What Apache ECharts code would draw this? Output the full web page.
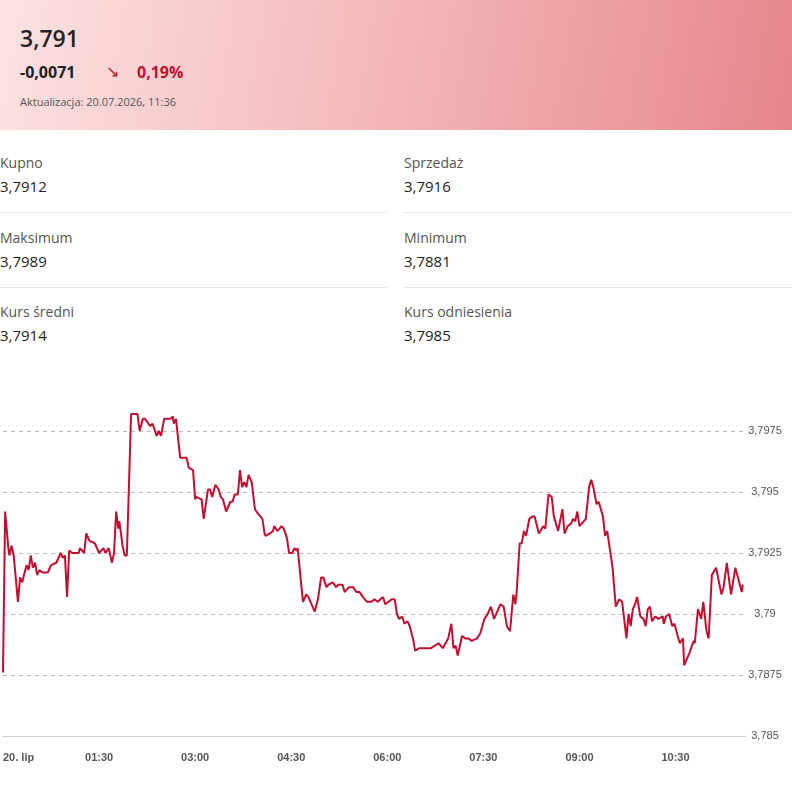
<!DOCTYPE html>
<html><head><meta charset="utf-8">
<script src="https://cdn.jsdelivr.net/npm/echarts@6/dist/echarts.min.js"></script>
<style>
body{margin:0;width:792px;height:790px;font-family:"Open Sans",sans-serif;position:relative;overflow:hidden;background:#fff}
#hdr{position:absolute;left:0;top:0;width:792px;height:130px;background:linear-gradient(100deg,#fde2e2 0%,#f3b6b8 50%,#e6868b 100%)}
.t{position:absolute;white-space:nowrap}
.lab{font-size:14px;color:#555}
.val{font-size:15px;color:#222}
.sep{position:absolute;height:1px;background:#e5e5e5}
#chart{position:absolute;left:0;top:0;width:792px;height:790px}
</style></head><body>
<div id="hdr"></div>
<div class="t" style="left:20px;top:22px;font-size:23px;font-weight:600;color:#222">3,791</div>
<div class="t" style="left:20px;top:61px;font-size:16px;font-weight:700;color:#222">-0,0071</div>
<div class="t" style="left:106px;top:60px;font-size:16px;color:#c0102f">↘</div>
<div class="t" style="left:137px;top:61px;font-size:16px;font-weight:700;color:#c0102f">0,19%</div>
<div class="t" style="left:20px;top:94px;font-size:11px;color:#555">Aktualizacja: 20.07.2026, 11:36</div>
<div class="t lab" style="left:0;top:153px">Kupno</div><div class="t val" style="left:0;top:176px">3,7912</div>
<div class="t lab" style="left:404px;top:153px">Sprzedaż</div><div class="t val" style="left:404px;top:176px">3,7916</div>
<div class="sep" style="left:0;top:212px;width:387px"></div><div class="sep" style="left:404px;top:212px;width:388px"></div>
<div class="t lab" style="left:0;top:228px">Maksimum</div><div class="t val" style="left:0;top:251px">3,7989</div>
<div class="t lab" style="left:404px;top:228px">Minimum</div><div class="t val" style="left:404px;top:251px">3,7881</div>
<div class="sep" style="left:0;top:287px;width:387px"></div><div class="sep" style="left:404px;top:287px;width:388px"></div>
<div class="t lab" style="left:0;top:302px">Kurs średni</div><div class="t val" style="left:0;top:325px">3,7914</div>
<div class="t lab" style="left:404px;top:302px">Kurs odniesienia</div><div class="t val" style="left:404px;top:325px">3,7985</div>
<div id="chart"></div>
<script>
const times=[0,2,5,6,8,10,14,16,18,22,24,26,28,30,32,34,37,42,45,50,54,56,58,60,62,65,71,72,76,78,81,86,90,94,96,99,102,104,106,108,109,112,114,116,120,122,126,128,131,133,138,140,144,146,148,151,153,157,159,160,162,166,169,172,174,178,180,181,186,188,192,194,196,199,202,204,206,209,213,215,217,220,222,224,226,228,230,233,236,239,243,245,246,250,253,254,257,261,263,266,268,271,273,275,276,281,284,286,292,295,298,300,303,305,309,312,314,318,320,324,328,331,334,337,341,345,348,351,356,358,
364,367,369,371,374,376,379,381,384,386,390,394,398,401,408,412,417,420,422,424,426,430,433,436,439,444,447,451,454,457,460,466,469,472,475,478,480,481,484,486,488,490,493,496,498,502,506,508,511,514,516,520,524,526,529,532,534,536,538,540,546,549,551,553,556,558,562,564,566,571,574,577,580,584,586,588,590,592,594,597,600,602,604,606,608,611,614,618,619,621,624,627,629,632,634,637,638,643,647,648,651,654,656,659,661,664,668,673,675,678,682,686,689,692,693];
const rates=[3.7876,3.7942,3.7927,3.7924,3.7928,3.7924,3.7905,3.7915,3.7913,3.7920,3.7918,3.7924,3.7919,3.7921,3.7916,3.7918,3.7917,3.7917,3.7920,3.7921,3.7925,3.7923,3.7924,3.7907,3.7926,3.7925,3.7925,3.7927,3.7925,3.7933,3.7930,3.7929,3.7925,3.7927,3.7925,3.7927,3.7921,3.7925,3.7942,3.7935,3.7938,3.7928,3.7924,3.7924,3.7982,3.7982,3.7982,3.7975,3.7980,3.7980,3.7977,3.7978,3.7973,3.7975,3.7973,3.7980,3.7980,3.7980,3.7981,3.7978,3.7980,3.7964,3.7964,3.7964,3.7960,3.7959,3.7947,3.7948,3.7947,3.7939,3.7951,3.7951,3.7948,3.7953,3.7951,3.7948,3.7947,3.7942,3.7946,3.7946,3.7949,3.7949,3.7959,3.7952,3.7954,3.7952,3.7957,3.7954,3.7943,3.7941,3.7939,3.7933,3.7932,3.7933,3.7934,3.7936,3.7934,3.7936,3.7935,3.7931,3.7925,3.7925,3.7927,3.7926,3.7927,3.7905,3.7908,3.7907,3.7901,3.7906,3.7915,3.7915,3.7911,3.7912,3.7913,3.7911,3.7912,3.7912,3.7909,3.7911,3.7911,3.7909,3.7909,3.7907,3.7905,3.7905,3.7906,3.7905,3.7907,3.7904,
3.7906,3.7906,3.7900,3.7898,3.7899,3.7896,3.7897,3.7895,3.7890,3.7885,3.7886,3.7886,3.7886,3.7886,3.7888,3.7886,3.7890,3.7896,3.7886,3.7887,3.7883,3.7891,3.7890,3.7890,3.7889,3.7890,3.7892,3.7898,3.7900,3.7903,3.7898,3.7904,3.7903,3.7895,3.7893,3.7908,3.7904,3.7908,3.7929,3.7929,3.7934,3.7932,3.7939,3.7940,3.7940,3.7933,3.7936,3.7935,3.7949,3.7948,3.7940,3.7934,3.7943,3.7933,3.7936,3.7937,3.7939,3.7938,3.7942,3.7936,3.7939,3.7952,3.7955,3.7952,3.7945,3.7946,3.7940,3.7932,3.7934,3.7919,3.7903,3.7906,3.7905,3.7890,3.7900,3.7895,3.7902,3.7904,3.7907,3.7899,3.7898,3.7895,3.7902,3.7903,3.7897,3.7899,3.7898,3.7899,3.7896,3.7899,3.7900,3.7895,3.7896,3.7891,3.7888,3.7890,3.7879,3.7884,3.7889,3.7888,3.7902,3.7898,3.7905,3.7893,3.7890,3.7916,3.7919,3.7908,3.7911,3.7921,3.7908,3.7919,3.7914,3.7909,3.7912];
const dayLabel='20. lip';
const chart=echarts.init(document.getElementById('chart'));
const pad=n=>String(n).padStart(2,'0');
chart.setOption({
  animation:false,
  grid:{left:0,right:46,top:406.6,bottom:54},
  xAxis:{type:'value',min:0,max:696,interval:90,
    axisLine:{show:true,lineStyle:{color:'#d0d0d0'}},axisTick:{show:false},splitLine:{show:false},
    axisLabel:{color:'#555',fontSize:11,fontWeight:600,margin:16,alignMinLabel:'left',showMaxLabel:false,
      formatter:v=>v===0?dayLabel:pad(Math.floor(v/60))+':'+pad(v%60)}},
  yAxis:{type:'value',position:'right',min:3.785,max:3.7985,interval:0.0025,
    axisLine:{show:false},axisTick:{show:false},
    splitLine:{show:true,showMinLine:false,showMaxLine:false,lineStyle:{color:'#bbb',type:[4,4]}},
    axisLabel:{color:'#555',fontSize:11,align:'center',margin:19,showMaxLabel:false,
      formatter:v=>v.toFixed(4).replace(/0+$/,'').replace(/\.$/,'').replace('.',',')}},
  series:[{type:'line',data:times.map((t,i)=>[t,rates[i]]),showSymbol:false,
    lineStyle:{color:'#c0102f',width:2},itemStyle:{color:'#c0102f'}}]
});
</script></body></html>
